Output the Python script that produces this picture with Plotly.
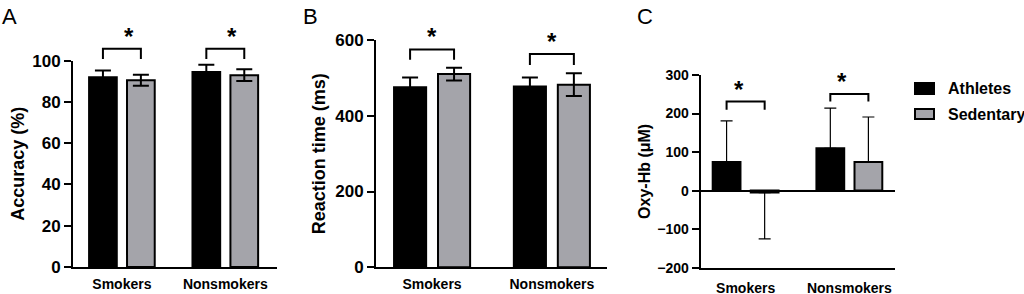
import plotly.graph_objects as go

# ---------------- data ----------------
categories = ["Smokers", "Nonsmokers"]
groups = ["Athletes", "Sedentary"]

acc_athletes = [92.0, 94.5]
acc_athletes_sd = [3.2, 3.5]
acc_sedentary = [90.5, 93.0]
acc_sedentary_sd = [2.7, 2.8]

rt_athletes = [475, 477]
rt_athletes_sd = [26, 24]
rt_sedentary = [510, 482]
rt_sedentary_sd = [17, 30]

oxy_athletes = [74, 110]
oxy_athletes_sd_up = [107, 104]
oxy_athletes_sd_down = [0, 0]
oxy_sedentary = [-5, 74]
oxy_sedentary_sd_up = [0, 117]
oxy_sedentary_sd_down = [120, 0]

# significance brackets per category: (bar level, leg end level)
acc_brackets = [(105.8, 100.8), (105.8, 100.8)]
rt_brackets = [(575, 548), (563, 534)]
oxy_brackets = [(231, 210), (251, 231)]

# ---------------- style ----------------
BLACK = "#000000"
GREY = "#a4a4aa"
FONT = "Liberation Sans, Arial, sans-serif"
W, H = 1024, 294
BARGAP = 0.266
BARGROUPGAP = 0.27

def px_x(p):
    return p / W

def px_y(p):
    return 1 - p / H

xpos = list(range(len(categories)))

panels = [
    dict(n="", a=acc_athletes, ae=(acc_athletes_sd, acc_athletes_sd),
         s=acc_sedentary, se=(acc_sedentary_sd, acc_sedentary_sd),
         thick=2, cap=8, br=acc_brackets,
         xdom=(73, 277), xr=[-0.473, 1.5], ydom=(60.7, 267), yr=[0, 100], dtick=20,
         title="Accuracy (%)", tfs=17, fs=18, standoff=3, xstand=3),
    dict(n="2", a=rt_athletes, ae=(rt_athletes_sd, rt_athletes_sd),
         s=rt_sedentary, se=(rt_sedentary_sd, rt_sedentary_sd),
         thick=2, cap=8, br=rt_brackets,
         xdom=(376, 607), xr=[-0.468, 1.46], ydom=(40, 267.3), yr=[0, 600], dtick=200,
         title="Reaction time (ms)", tfs=17, fs=18, standoff=5, xstand=3),
    dict(n="3", a=oxy_athletes, ae=(oxy_athletes_sd_up, oxy_athletes_sd_down),
         s=oxy_sedentary, se=(oxy_sedentary_sd_up, oxy_sedentary_sd_down),
         thick=1.2, cap=6, br=oxy_brackets,
         xdom=(700.7, 895), xr=[-0.433, 1.44], ydom=(75, 267.7), yr=[-200, 300], dtick=100,
         title="Oxy-Hb (μM)", tfs=14, fs=16, standoff=3, xstand=6),
]

fig = go.Figure()
layout_axes = {}
shapes = []
annotations = []
half = (1 - BARGAP) / 4  # offset of each bar centre from its category centre

for p in panels:
    xa = "x" + p["n"]
    ya = "y" + p["n"]
    for name, vals, err, col in [(groups[0], p["a"], p["ae"], BLACK),
                                 (groups[1], p["s"], p["se"], GREY)]:
        fig.add_trace(go.Bar(
            x=xpos, y=vals, name=name, xaxis=xa, yaxis=ya,
            marker=dict(color=col, line=dict(color=BLACK, width=2)),
            error_y=dict(type="data", symmetric=False, array=err[0], arrayminus=err[1],
                         color=BLACK, thickness=p["thick"], width=p["cap"]),
            showlegend=False, legendgroup=name,
        ))

    layout_axes["xaxis" + p["n"]] = dict(
        anchor=ya, domain=[px_x(p["xdom"][0]), px_x(p["xdom"][1])], range=p["xr"],
        tickvals=xpos, ticktext=categories, showline=True, linewidth=2, linecolor=BLACK,
        ticks="", showgrid=False, zeroline=False, automargin=False,
        ticklabelstandoff=p["xstand"],
        tickfont=dict(family=FONT, size=14, color=BLACK, weight="bold"))
    layout_axes["yaxis" + p["n"]] = dict(
        anchor=xa, domain=[px_y(p["ydom"][1]), px_y(p["ydom"][0])], range=p["yr"],
        dtick=p["dtick"], showline=True, linewidth=2, linecolor=BLACK, ticks="outside",
        ticklen=7, tickwidth=2, tickcolor=BLACK, showgrid=False, automargin=False,
        zeroline=(p["yr"][0] < 0), zerolinewidth=2, zerolinecolor=BLACK,
        tickfont=dict(family=FONT, size=p["tfs"], color=BLACK, weight="bold"),
        title=dict(text=p["title"], standoff=p["standoff"],
                   font=dict(family=FONT, size=p["fs"], color=BLACK, weight="bold")))

    # map data values to paper coordinates through the axis domain/range
    def to_px(v, p=p):
        x0, x1 = p["xdom"]
        r0, r1 = p["xr"]
        return x0 + (v - r0) / (r1 - r0) * (x1 - x0)

    def to_py(v, p=p):
        top, bot = p["ydom"]
        r0, r1 = p["yr"]
        return bot - (v - r0) / (r1 - r0) * (bot - top)

    for i, (top, leg) in enumerate(p["br"]):
        bx0 = px_x(to_px(xpos[i] - half))
        bx1 = px_x(to_px(xpos[i] + half))
        yt = px_y(to_py(top))
        yl = px_y(to_py(leg))
        shapes.append(dict(type="path", xref="paper", yref="paper",
                           path=f"M{bx0},{yl} L{bx0},{yt} L{bx1},{yt} L{bx1},{yl}",
                           line=dict(color=BLACK, width=2)))
        annotations.append(dict(xref="paper", yref="paper", x=px_x(to_px(xpos[i])), y=yt,
                                text="*", showarrow=False, yanchor="bottom", yshift=-3,
                                font=dict(family=FONT, size=24, color=BLACK, weight="bold")))

# panel letters
for letter, x in [("A", 0), ("B", 301), ("C", 635)]:
    annotations.append(dict(xref="paper", yref="paper", x=px_x(x), y=px_y(2), text=letter,
                            xanchor="left", yanchor="top", showarrow=False,
                            font=dict(family=FONT, size=22, color=BLACK)))

# legend (drawn)
for (name, col, y0, y1) in [(groups[0], BLACK, 83, 94), (groups[1], GREY, 109, 119)]:
    shapes.append(dict(type="rect", xref="paper", yref="paper",
                       x0=px_x(915), x1=px_x(934), y0=px_y(y1), y1=px_y(y0),
                       fillcolor=col, line=dict(color=BLACK, width=2)))
    annotations.append(dict(xref="paper", yref="paper", x=px_x(946), y=px_y((y0 + y1) / 2),
                            text=name, xanchor="left", yanchor="middle", showarrow=False,
                            font=dict(family=FONT, size=16, color=BLACK, weight="bold")))

fig.update_layout(
    width=W, height=H,
    margin=dict(l=0, r=0, t=0, b=0, autoexpand=False),
    paper_bgcolor="white", plot_bgcolor="white",
    barmode="group", bargap=BARGAP, bargroupgap=BARGROUPGAP,
    showlegend=False,
    shapes=shapes,
    annotations=annotations,
    **layout_axes,
)

fig.write_html("out.html", config={"displayModeBar": False},
               post_script="document.body.style.margin='0px';")
